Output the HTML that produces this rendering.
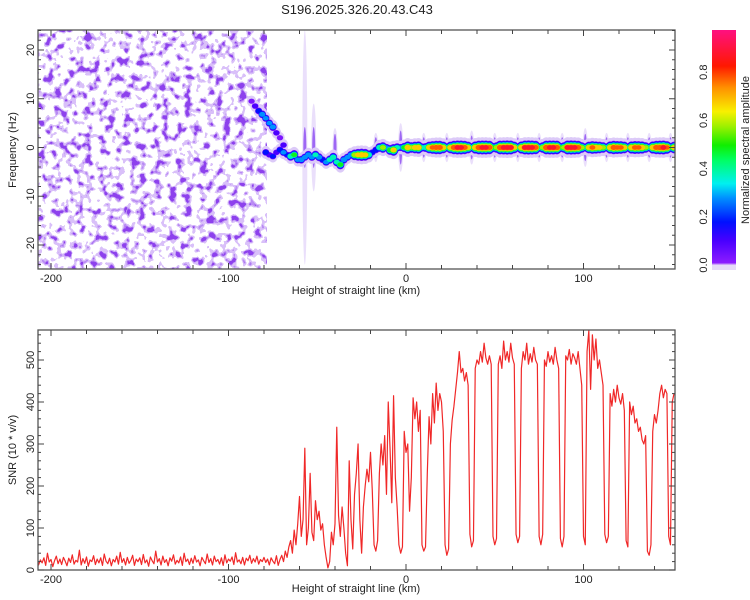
<!DOCTYPE html>
<html><head><meta charset="utf-8"><style>
html,body{margin:0;padding:0;background:#fff;}
svg{display:block;font-family:"Liberation Sans",sans-serif;}
</style></head><body>
<svg id="chart" width="750" height="600" viewBox="0 0 750 600" xmlns="http://www.w3.org/2000/svg">
<defs>
<filter id="nz" x="0" y="0" width="100%" height="100%" color-interpolation-filters="sRGB">
<feTurbulence type="fractalNoise" baseFrequency="0.13 0.12" numOctaves="2" seed="11" result="t"/>
<feColorMatrix in="t" type="matrix" values="0 0 0 0 0.5  0 0 0 0 0.17  0 0 0 0 0.92  3.5 0 0 0 -1.5" result="c"/>
<feComponentTransfer in="c"><feFuncA type="discrete" tableValues="0 0 0.3 0.3 0.55 0.9"/></feComponentTransfer>
</filter>
<linearGradient id="cbar" x1="0" y1="1" x2="0" y2="0">
<stop offset="0" stop-color="#e6daf8"/><stop offset="0.02" stop-color="#e6daf8"/>
<stop offset="0.03" stop-color="#8c1cff"/><stop offset="0.12" stop-color="#4a00ff"/>
<stop offset="0.2" stop-color="#0010ff"/><stop offset="0.3" stop-color="#0090ff"/>
<stop offset="0.36" stop-color="#00f0f0"/><stop offset="0.46" stop-color="#00ff60"/>
<stop offset="0.52" stop-color="#10ee00"/><stop offset="0.6" stop-color="#a0f000"/>
<stop offset="0.66" stop-color="#f8f000"/><stop offset="0.76" stop-color="#ff9000"/>
<stop offset="0.85" stop-color="#ff1800"/><stop offset="1" stop-color="#ff1080"/>
</linearGradient>
<clipPath id="clipT"><rect x="38" y="30" width="637" height="239"/></clipPath>
<clipPath id="clipB"><rect x="38" y="330" width="637" height="240"/></clipPath>
</defs>
<text x="357" y="14" text-anchor="middle" font-size="13" fill="#222">S196.2025.326.20.43.C43</text>
<g id="top">
  <g clip-path="url(#clipT)">
    <rect x="38" y="30" width="229" height="239" fill="#fff" filter="url(#nz)"/>
    <g id="streaks"></g>
    <g id="ridge"></g>
  </g>
  <g id="topAxes"></g>
</g>
<g id="bottom">
  <g clip-path="url(#clipB)"><path id="snrLine" fill="none" stroke="#f02828" stroke-width="1.2" stroke-linejoin="round"/></g>
  <g id="botAxes"></g>
</g>
<g id="colorbar">
  <rect x="712" y="30" width="24" height="240" fill="url(#cbar)"/>
  <g id="cbTicks"></g>
  <text transform="translate(749,150) rotate(-90)" text-anchor="middle" font-size="11" fill="#222">Normalized spectral amplitude</text>
</g>
<text transform="translate(16,150) rotate(-90)" text-anchor="middle" font-size="11" fill="#222">Frequency (Hz)</text>
<text x="356" y="294" text-anchor="middle" font-size="11" fill="#222">Height of straight line (km)</text>
<text transform="translate(16,450) rotate(-90)" text-anchor="middle" font-size="11" fill="#222">SNR (10 * v/v)</text>
<text x="356" y="592" text-anchor="middle" font-size="11" fill="#222">Height of straight line (km)</text>
</svg>
<script>
// ---- data ----
const xTicks = [-200, -100, 0, 100];
const freqTicks = [-20, -10, 0, 10, 20];
const snrTicks = [0, 100, 200, 300, 400, 500];
const cbTicks = [0.0, 0.2, 0.4, 0.6, 0.8];
// SNR left (quiet) segment, 1 km steps ending at -72 km
const snrLeft = [22,14,31,18,9,27,20,35,12,24,17,29,11,40,19,25,8,22,33,15,26,13,30,21,10,28,18,36,14,23,19,47,12,27,16,31,9,24,20,34,13,26,17,29,11,38,21,15,28,10,25,19,33,14,42,18,27,12,30,16,23,35,11,26,20,29,13,37,17,24,9,31,22,15,45,19,27,12,33,18,25,10,29,21,36,14,23,17,31,11,40,20,26,13,28,16,34,19,24,10,30,22,15,38,18,27,12,33,20,25,14,29,11,36,17,26,21,31,13,41,19,24,15,30,12,28,22,35,16,27,19,33,14,25,20,30,18,26,12,29,21,15,34,11];
const snrLeftEnd = -72;
// SNR right segment, 1 km steps starting at -71 km
const snrRightStart = -71;
const snrRight = [25,35,20,45,30,55,70,40,95,60,110,175,80,120,290,60,100,230,90,70,165,120,140,95,110,60,30,5,20,90,60,110,340,130,80,150,100,40,10,260,120,50,180,230,300,120,40,150,200,240,210,280,190,60,45,70,230,300,250,320,180,400,290,160,415,220,150,60,40,55,330,280,300,140,220,410,360,400,330,380,60,45,55,230,365,300,420,350,445,380,420,400,330,60,35,50,300,357,390,430,470,520,470,480,450,470,440,85,55,70,480,500,490,520,495,540,505,490,510,490,80,60,75,490,510,480,545,500,520,495,540,505,490,85,65,80,480,520,500,540,490,515,495,530,500,490,80,60,85,500,485,520,495,510,490,530,500,480,75,55,80,510,500,525,490,515,505,490,520,480,440,80,60,520,570,430,560,500,550,480,500,470,440,85,65,80,420,390,430,400,440,410,395,420,380,70,55,400,370,390,350,360,330,340,310,300,320,45,35,60,330,370,350,380,420,440,410,430,420,80,60,400,420];
// spectral ridge blobs
const blobX = [-87,-85,-83,-81,-79,-77,-75,-73,-71,-69,-79,-77,-75,-73,-71,-69,-67,-65,-63,-61,-59,-57,-55,-53,-51,-49,-47,-45,-43,-41,-39,-37,-35,-33,-31,-29,-27,-25,-23,-21,-19,-17,-15,-13,-11,-9,-7,-5,-3,-1,1,3,5,7,9,11,13,15,17,19,21,23,25,27,29,31,33,35,37,39,41,43,45,47,49,51,53,55,57,59,61,63,65,67,69,71,73,75,77,79,81,83,85,87,89,91,93,95,97,99,101,103,105,107,109,111,113,115,117,119,121,123,125,127,129,131,133,135,137,139,141,143,145,147,149,151];
const blobF = [9.5,8.5,7.5,6.8,6,5,4.2,3,2,0.5,-1,-1.5,-1.8,-1,-0.5,-1,-1.5,-1.8,-1.5,-2.5,-2.5,-2,-1.5,-2,-1.5,-2,-2.5,-3,-2.5,-2,-3,-3.5,-2.5,-2,-1.5,-1.5,-1.5,-1.5,-1.5,-1.5,-1,-0.5,0,0,0,-0.5,-0.5,0,0,0,0,0,0,0,0,0,0,0,0,0,0,0,0,0,0,0,0,0,0,0,0,0,0,0,0,0,0,0,0,0,0,0,0,0,0,0,0,0,0,0,0,0,0,0,0,0,0,0,0,0,0,0,0,0,0,0,0,0,0,0,0,0,0,0,0,0,0,0,0,0,0,0,0,0,0,0,0];
const blobA = [0.1,0.15,0.25,0.35,0.3,0.3,0.35,0.15,0.1,0.15,0.25,0.15,0.2,0.15,0.25,0.3,0.2,0.45,0.5,0.3,0.35,0.3,0.35,0.3,0.4,0.35,0.25,0.3,0.4,0.45,0.4,0.5,0.35,0.3,0.35,0.6,0.7,0.75,0.7,0.45,0.2,0.25,0.45,0.6,0.3,0.55,0.7,0.4,0.3,0.5,0.75,0.6,0.7,0.75,0.4,0.45,0.7,0.8,0.85,0.85,0.7,0.4,0.7,0.85,0.9,0.9,0.85,0.7,0.4,0.75,0.88,0.9,0.9,0.85,0.5,0.6,0.88,0.9,0.92,0.9,0.7,0.4,0.75,0.9,0.92,0.9,0.85,0.45,0.6,0.88,0.9,0.9,0.88,0.5,0.6,0.9,0.92,0.9,0.85,0.6,0.4,0.7,0.8,0.75,0.7,0.6,0.4,0.75,0.85,0.82,0.8,0.7,0.4,0.75,0.82,0.8,0.75,0.6,0.4,0.75,0.85,0.88,0.9,0.8,0.5,0.7];
// vertical streaks (km, half-extent Hz)
const streakX = [-57,-52,-40,-17,-3,10,23,37,50,63,75,88,101,113,125,137,149];
const streakH = [24,9,4,3,5,3,3,3.5,3,3,3,3,4,3,3,3,3];

// ---- scales ----
const NS = 'http://www.w3.org/2000/svg';
const xS = k => 406 + k * 1.775;
const yF = f => 147.5 - f * 4.875;
const yS = s => 570 - s * 0.42;
const yC = v => 265 - v * 241;
const cmapStops = [[0,[140,28,255]],[0.12,[74,0,255]],[0.2,[0,16,255]],[0.3,[0,144,255]],[0.36,[0,240,240]],[0.46,[0,255,96]],[0.52,[16,238,0]],[0.6,[160,240,0]],[0.66,[248,240,0]],[0.76,[255,144,0]],[0.85,[255,24,0]],[1,[255,16,128]]];
function cmap(v){
  for(let i=1;i<cmapStops.length;i++){
    if(v<=cmapStops[i][0]){const a=cmapStops[i-1],b=cmapStops[i];const t=(v-a[0])/(b[0]-a[0]);
      return 'rgb('+a[1].map((c,j)=>Math.round(c+(b[1][j]-c)*t)).join(',')+')';}
  }
  return 'rgb(255,16,128)';
}
function mk(tag, attrs, parent){const e=document.createElementNS(NS,tag);for(const k in attrs)e.setAttribute(k,attrs[k]);parent.appendChild(e);return e;}

// ---- streaks ----
const gS = document.getElementById('streaks');
streakX.forEach((k,i)=>{
  const e1 = mk('ellipse',{cx:xS(k),cy:yF(0),rx:2.5,ry:streakH[i]*4.875,fill:'#dccaf8',opacity:0.6},gS);
  
  
  const e2 = mk('ellipse',{cx:xS(k),cy:yF(0),rx:1.5,ry:Math.min(streakH[i],6)*4.875*0.7,fill:'#6a18f0',opacity:0.6},gS);
  
  
});

// ---- ridge ----
const gR = document.getElementById('ridge');
const levels = [0,0.03,0.12,0.2,0.3,0.4,0.5,0.6,0.7,0.8,0.9];
levels.forEach(L=>{
  blobX.forEach((k,i)=>{
    const a = blobA[i];
    if(L>a) return;
    const halo = L===0;
    const ry = halo ? 5+6*a : 2.2+5.5*(a-L);
    const rx = halo ? 4.5+2*a : 3+2.5*(a-L);
    const e = mk('ellipse',{cx:xS(k),cy:yF(blobF[i]),rx:rx,ry:ry,fill:halo?'#dccaf8':cmap(L)},gR);
    
    
  });
});

// ---- SNR line ----
let d='';
snrLeft.forEach((v,i)=>{const k=snrLeftEnd-(snrLeft.length-1)+i;d+=(i?'L':'M')+xS(k).toFixed(2)+' '+yS(v).toFixed(2);});
snrRight.forEach((v,i)=>{const k=snrRightStart+i;d+='L'+xS(k).toFixed(2)+' '+yS(v).toFixed(2);});
document.getElementById('snrLine').setAttribute('d',d);

// ---- axes ----
function frame(g, top, bot, name){
  const r = mk('rect',{x:38,y:top,width:637,height:bot-top,fill:'none',stroke:'#555','stroke-width':1.3},g);
  
  
  for(let k=-200;k<=140;k+=20){
    const major = xTicks.includes(k); const L = major?6:4;
    mk('line',{x1:xS(k),x2:xS(k),y1:bot,y2:bot-L,stroke:'#444','stroke-width':1},g);
    mk('line',{x1:xS(k),x2:xS(k),y1:top,y2:top+L,stroke:'#444','stroke-width':1},g);
  }
  xTicks.forEach(k=>{
    const t = mk('text',{x:xS(k),y:bot+13,'text-anchor':'middle','font-size':11,fill:'#222'},g);
    t.textContent = k;
    
    
  });
}
const gT = document.getElementById('topAxes');
frame(gT,30,269,'spectrogram-frame');
for(let f=-24;f<=24;f+=2){
  const L = f%10===0?6:3;
  mk('line',{x1:38,x2:38+L,y1:yF(f),y2:yF(f),stroke:'#444','stroke-width':1},gT);
  mk('line',{x1:675,x2:675-L,y1:yF(f),y2:yF(f),stroke:'#444','stroke-width':1},gT);
}
freqTicks.forEach(f=>{
  const t = mk('text',{transform:'translate(34,'+yF(f)+') rotate(-90)','text-anchor':'middle','font-size':11,fill:'#222'},gT);
  t.textContent = f;
  
  
});
const gB = document.getElementById('botAxes');
frame(gB,330,570,'snr-frame');
for(let s=0;s<=560;s+=20){
  const L = s%100===0?6:3;
  mk('line',{x1:38,x2:38+L,y1:yS(s),y2:yS(s),stroke:'#444','stroke-width':1},gB);
  mk('line',{x1:675,x2:675-L,y1:yS(s),y2:yS(s),stroke:'#444','stroke-width':1},gB);
}
snrTicks.forEach(s=>{
  const t = mk('text',{transform:'translate(34,'+yS(s)+') rotate(-90)','text-anchor':'middle','font-size':11,fill:'#222'},gB);
  t.textContent = s;
  
  
});
const gC = document.getElementById('cbTicks');
cbTicks.forEach(v=>{
  const t = mk('text',{transform:'translate(707,'+yC(v)+') rotate(-90)','text-anchor':'middle','font-size':11,fill:'#222'},gC);
  t.textContent = v.toFixed(1);
  
  
});
</script>
</body></html>
